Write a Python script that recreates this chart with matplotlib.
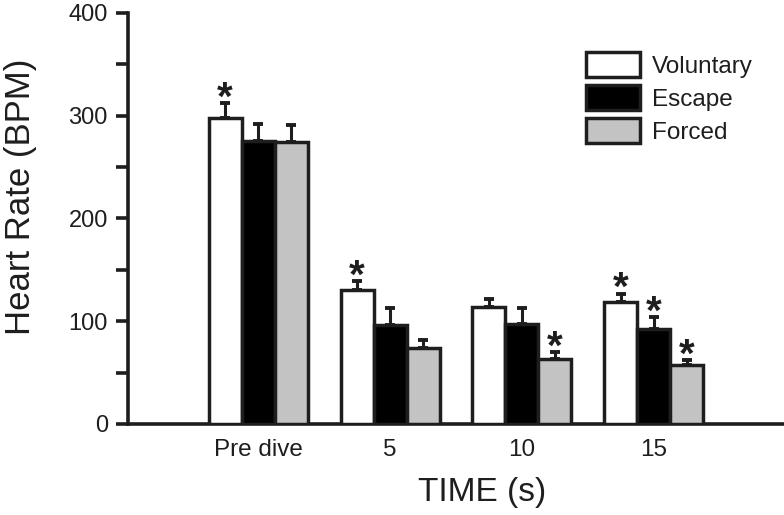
import numpy as np
import matplotlib
matplotlib.use('Agg')
import matplotlib.pyplot as plt
from matplotlib.ticker import MultipleLocator

plt.rcParams['font.family'] = ['Liberation Sans', 'DejaVu Sans']

groups = ['Pre dive', '5', '10', '15']
series = ['Voluntary', 'Escape', 'Forced']

voluntary = [298, 130, 114, 119]
voluntary_err = [14, 9, 8, 8]
escape = [275, 96, 97, 92]
escape_err = [17, 17, 16, 12]
forced = [274, 74, 63, 57]
forced_err = [17, 8, 7, 5]

# significance marks (asterisks)
voluntary_sig = [True, True, False, True]
escape_sig = [False, False, False, True]
forced_sig = [False, False, True, True]

INK = '#1e1e1e'
fills = ['white', 'black', '#c3c3c3']
values = [voluntary, escape, forced]
errors = [voluntary_err, escape_err, forced_err]
sigs = [voluntary_sig, escape_sig, forced_sig]

fig = plt.figure(figsize=(7.84, 5.15), dpi=100)
ax = fig.add_axes([128 / 784, 1 - 424 / 515, 1 - 128 / 784, 411 / 515])

x = np.arange(len(groups))
w = 0.25
for i, name in enumerate(series):
    xs = x + (i - 1) * w
    ax.bar(xs, values[i], width=w, color=fills[i], edgecolor=INK,
           linewidth=2.5, label=name, zorder=3)
    ax.errorbar(xs, values[i], yerr=[np.zeros(len(x)), errors[i]], fmt='none',
                ecolor=INK, elinewidth=2.2, capsize=3.5, capthick=2.8, zorder=2)
    for xi, v, e, s in zip(xs, values[i], errors[i], sigs[i]):
        if s:
            ax.text(xi, v + e - 14, '*', ha='center', va='bottom',
                    fontsize=29, fontweight='bold', color=INK, zorder=4)

ax.set_xlim(-0.985, 3.985)
ax.set_ylim(0, 400)
ax.set_xticks(x)
ax.set_xticklabels(groups)
ax.yaxis.set_major_locator(MultipleLocator(100))
ax.yaxis.set_minor_locator(MultipleLocator(50))

for side in ['top', 'right']:
    ax.spines[side].set_visible(False)
for side in ['left', 'bottom']:
    ax.spines[side].set_linewidth(2.6)
    ax.spines[side].set_color(INK)

ax.tick_params(axis='y', which='both', length=9, width=2.6, color=INK,
               labelsize=17, pad=5.5, labelcolor=INK)
ax.tick_params(axis='x', length=0, labelsize=17.5, pad=11, labelcolor=INK)

ax.set_ylabel('Heart Rate (BPM)', fontsize=25, color=INK)
ax.yaxis.set_label_coords(-0.138, 0.552)
ax.set_xlabel('TIME (s)', fontsize=24, color=INK)
ax.xaxis.set_label_coords((482 - 128) / 656, -0.13)

leg = ax.legend(loc='upper left', bbox_to_anchor=((586 - 128) / 656, (424 - 52) / 411),
                frameon=False, fontsize=17.5, handlelength=2.22, handleheight=1.23,
                labelspacing=0.29, handletextpad=0.5, borderaxespad=0, borderpad=0)
for t in leg.get_texts():
    t.set_color(INK)

fig.savefig('out.png', dpi=100)
